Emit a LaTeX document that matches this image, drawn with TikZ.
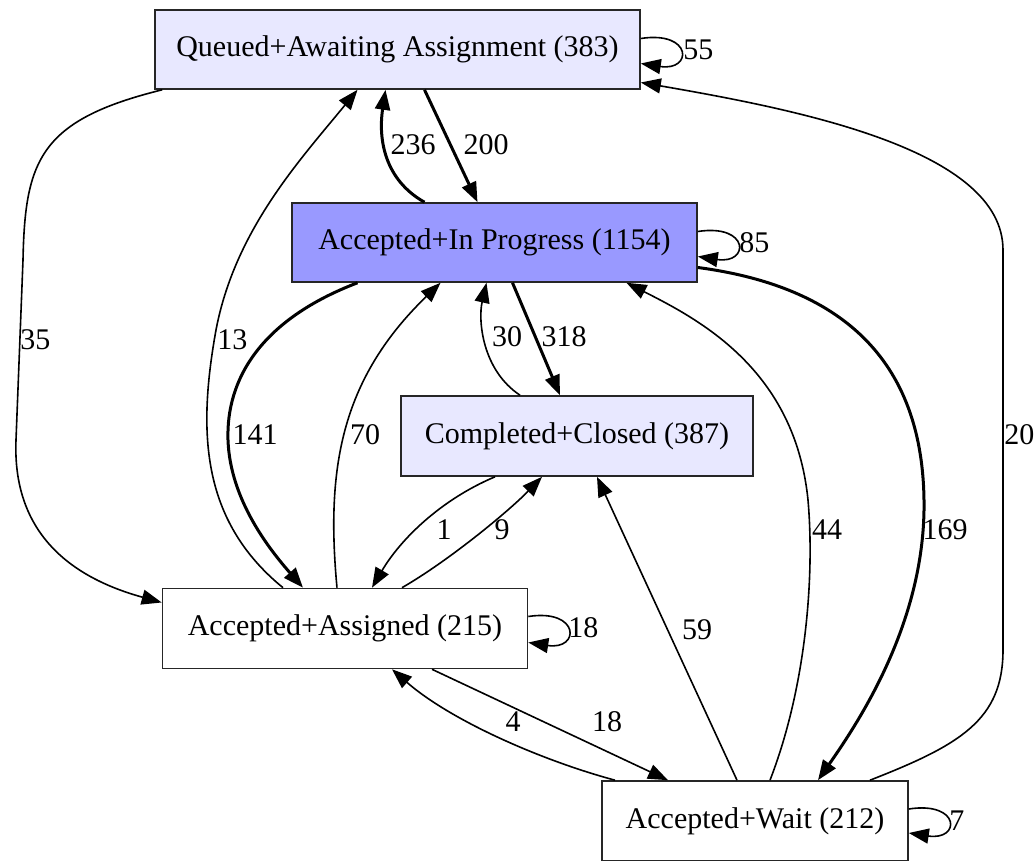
\documentclass[tikz,border=0pt]{standalone}
\usepackage{fontspec}
\setmainfont{Liberation Serif}
\usetikzlibrary{arrows.meta,calc}
\definecolor{lav}{RGB}{232,232,255}
\definecolor{blu}{RGB}{153,153,255}
\tikzset{
  box/.style={draw=black!85, line width=0.8pt, rectangle, inner sep=0pt, font=\fontsize{15}{18}\selectfont},
  edge/.style={draw, line width=0.8pt, -{Triangle[length=10pt,width=7.5pt]}},
  heavy/.style={edge, line width=1.5pt},
  lbl/.style={font=\fontsize{15}{18}\selectfont, inner sep=0pt},
  loopedge/.style={edge}
}
\begin{document}
\begin{tikzpicture}[x=0.5pt,y=-0.5pt]
\useasboundingbox (0,0) rectangle (1035,861);
\node[box, fill=lav, minimum width=242.5pt, minimum height=39.5pt] (Q) at (397.5,49.5) {Queued+Awaiting Assignment (383)};
\node[box, fill=blu, minimum width=202.5pt, minimum height=39.5pt] (P) at (494.5,242.5) {Accepted+In Progress (1154)};
\node[box, fill=lav, minimum width=176pt, minimum height=40pt] (C) at (577,436) {Completed+Closed (387)};
\node[box, fill=white, minimum width=182.5pt, minimum height=40pt] (A) at (345,628.5) {Accepted+Assigned (215)};
\node[box, fill=white, minimum width=153pt, minimum height=40pt] (W) at (755,821) {Accepted+Wait (212)};

% self loops
\draw[loopedge] ($(Q.east)+(0,-11)$) .. controls +(52,-8) and +(52,8) .. ($(Q.east)+(0,14)$);
\node[lbl, anchor=west] (l55) at (683,50) {55};
\draw[loopedge] ($(P.east)+(0,-11)$) .. controls +(52,-8) and +(52,8) .. ($(P.east)+(0,14)$);
\node[lbl, anchor=west] (l85) at (739,243) {85};
\draw[loopedge] ($(A.east)+(0,-12)$) .. controls +(52,-8) and +(52,8) .. ($(A.east)+(0,14)$);
\node[lbl, anchor=west] (l18a) at (568,628) {18};
\draw[loopedge] ($(W.east)+(0,-12)$) .. controls +(52,-8) and +(52,8) .. ($(W.east)+(0,12)$);
\node[lbl, anchor=west] (l7) at (949,821) {7};

% Q -> A (35)
\draw[edge] ($(Q.south west)+(8,0)$) .. controls (40,120) and (25,160) .. (23,260)
  -- (16,440) .. controls (12,540) and (80,580) .. ($(A.west)+(0,-26)$);
\node[lbl, anchor=west] (l35) at (20,340) {35};
% A -> Q (13)
\draw[edge] ($(A.north)+(-62,0)$) .. controls (200,520) and (198,430) .. (216,330)
  .. controls (235,230) and (300,160) .. ($(Q.south)+(-40,0)$);
\node[lbl, anchor=west] (l13) at (217,340) {13};
% P -> Q (236)
\draw[heavy] ($(P.north)+(-70,0)$) .. controls (385,180) and (378,140) .. ($(Q.south)+(-12,0)$);
\node[lbl] (l236) at (413,145) {236};
% Q -> P (200)
\draw[heavy] ($(Q.south)+(27,0)$) -- ($(P.north)+(-17,0)$);
\node[lbl] (l200) at (486,145) {200};
% P -> A (141)
\draw[heavy] ($(P.south)+(-137,0)$) .. controls (260,320) and (226,380) .. (228,440)
  .. controls (230,500) and (270,550) .. ($(A.north)+(-42,0)$);
\node[lbl] (l141) at (255,435) {141};
% A -> P (70)
\draw[edge] ($(A.north)+(-8,0)$) .. controls (326,470) and (340,380) .. ($(P.south)+(-54,0)$);
\node[lbl] (l70) at (365,435) {70};
% C -> P (30)
\draw[edge] ($(C.north)+(-57,0)$) .. controls (482,370) and (478,320) .. ($(P.south)+(-8,0)$);
\node[lbl] (l30) at (507,337) {30};
% P -> C (318)
\draw[heavy] ($(P.south)+(18,0)$) -- ($(C.north)+(-17,0)$);
\node[lbl] (l318) at (564,337) {318};
% C -> A (1)
\draw[edge] ($(C.south)+(-82,0)$) .. controls (440,500) and (400,540) .. ($(A.north)+(27,0)$);
\node[lbl] (l1) at (444,530) {1};
% A -> C (9)
\draw[edge] ($(A.north)+(57,0)$) .. controls (450,560) and (510,510) .. ($(C.south)+(-35,0)$);
\node[lbl] (l9) at (502,530) {9};
% W -> C (59)
\draw[edge] ($(W.north)+(-18,0)$) -- ($(C.south)+(20,0)$);
\node[lbl] (l59) at (697,630) {59};
% W -> P (44)
\draw[edge] ($(W.north)+(15,0)$) .. controls (805,690) and (815,580) .. (808,500)
  .. controls (795,370) and (700,320) .. ($(P.south)+(132,0)$);
\node[lbl] (l44) at (827,530) {44};
% P -> W (169)
\draw[heavy] ($(P.east)+(0,25)$) .. controls (830,285) and (922,350) .. (924,500)
  .. controls (926,620) and (860,720) .. ($(W.north)+(63,0)$);
\node[lbl] (l169) at (945,530) {169};
% W -> Q (20)
\draw[edge] ($(W.north)+(115,0)$) .. controls (960,745) and (1003,720) .. (1003,650)
  -- (1003,250) .. controls (1003,150) and (800,110) .. ($(Q.east)+(0,33)$);
\node[lbl, anchor=west] (l20) at (1004,435) {20};
% A -> W (18)
\draw[edge] ($(A.south)+(87,0)$) -- ($(W.north)+(-87,0)$);
\node[lbl] (l18b) at (607,722) {18};
% W -> A (4)
\draw[edge] ($(W.north)+(-140,0)$) .. controls (540,760) and (450,720) .. ($(A.south)+(47,0)$);
\node[lbl] (l4) at (513,722) {4};
\end{tikzpicture}
\end{document}
